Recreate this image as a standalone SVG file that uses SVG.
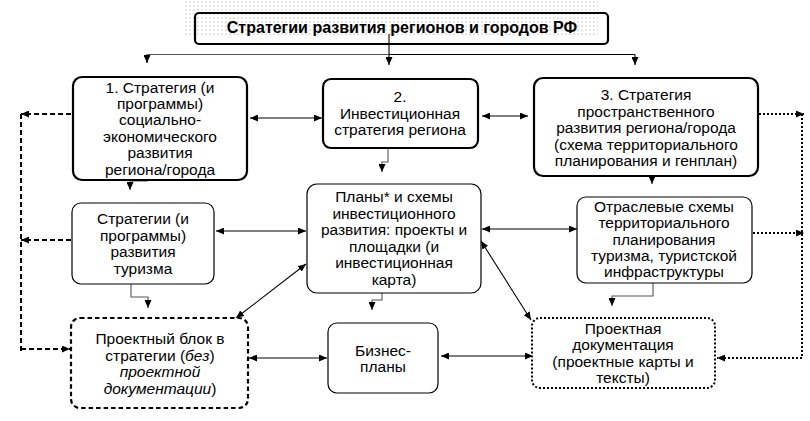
<svg xmlns="http://www.w3.org/2000/svg" width="810" height="421" viewBox="0 0 810 421">
<defs>
<pattern id="dots" patternUnits="userSpaceOnUse" width="4" height="4">
<circle cx="2" cy="2" r="0.6" fill="#8a8a8a"/>
</pattern>
<marker id="ah" viewBox="0 0 8 7" refX="8" refY="3.5" markerWidth="8" markerHeight="7" markerUnits="userSpaceOnUse" orient="auto-start-reverse">
<path d="M0,0 L8,3.5 L0,7 z" fill="#000"/>
</marker>
<style>
text{font-family:"Liberation Sans",Arial,sans-serif;font-size:15.5px;fill:#000;text-anchor:middle}
.title{font-weight:bold;font-size:16px}
.thick{fill:#fff;stroke:#000;stroke-width:2.2}
.thin{fill:#fff;stroke:#000;stroke-width:1.2}
.dash{fill:#fff;stroke:#000;stroke-width:2.2;stroke-dasharray:4.5 3}
.dot{fill:#fff;stroke:#000;stroke-width:2;stroke-dasharray:2 2}
.c{fill:none;stroke:#000;stroke-width:1.1}
.cg{fill:none;stroke:#555;stroke-width:1.1}
.both{marker-start:url(#ah);marker-end:url(#ah)}
.end{marker-end:url(#ah)}
.ld{fill:none;stroke:#000;stroke-width:2;stroke-dasharray:5 3}
.rd{fill:none;stroke:#000;stroke-width:2;stroke-dasharray:2 2}
</style>
</defs>
<rect x="0" y="0" width="810" height="421" fill="#fff"/>

<g id="title">
<rect x="185" y="0" width="413" height="36" fill="url(#dots)"/>
<rect x="195" y="13" width="413" height="31" rx="4" fill="none" stroke="#000" stroke-width="2.2"/>
<text class="title" x="402" y="33">Стратегии развития регионов и городов РФ</text>
</g>

<g id="connectors">
<path class="c end" d="M389,34 V65"/>
<path class="cg" d="M147,54.5 H389"/>
<path class="c" d="M389,54.5 H635"/>
<path class="c end" d="M147,54.5 V63"/>
<path class="c end" d="M635,54.5 V65"/>
<path class="c both" d="M250,118 H322"/>
<path class="c both" d="M482,116 H528"/>
<path class="cg end" d="M147,173 V181 H130 V190"/>
<path class="cg end" d="M388,138 V162 H382 V172"/>
<path class="cg end" d="M635,166 V174 H652 V184"/>
<path class="c both" d="M216,231 H306"/>
<path class="cg end" d="M131,272 V297 H148 V308"/>
<path class="c both" d="M236,318 L306,264"/>
<path class="c both" d="M249,358 H327"/>
<path class="cg end" d="M382,284 V300 H372 V310"/>
<path class="c both" d="M482,229 H577"/>
<path class="c both" d="M481,241 L531,320"/>
<path class="cg end" d="M653,275 V296 H612 V306"/>
<path class="c both" d="M441,356 H533"/>
<path class="ld end" d="M71,114 H21"/>
<path class="ld" d="M21,114 V352"/>
<path class="ld end" d="M71,240 H21"/>
<path class="ld end" d="M21,349 H70"/>
<path class="rd end" d="M759,114 H804"/>
<path class="rd end" d="M753,233 H804"/>
<path class="rd end" d="M802,114 V358 H717"/>
</g>

<g id="n1">
<rect class="thick" x="73" y="77" width="174" height="103" rx="9"/>
<text x="160" y="92.5">1. Стратегия (и</text>
<text x="160" y="108.9">программы)</text>
<text x="160" y="125.3">социально-</text>
<text x="160" y="141.7">экономического</text>
<text x="160" y="158.1">развития</text>
<text x="160" y="174.5">региона/города</text>
</g>

<g id="n2">
<rect class="thick" x="323" y="79" width="155" height="69" rx="8"/>
<text x="400" y="102">2.</text>
<text x="400" y="118.5">Инвестиционная</text>
<text x="400" y="135">стратегия региона</text>
</g>

<g id="n3">
<rect class="thick" x="534" y="78" width="224" height="98" rx="9"/>
<text x="646" y="100">3. Стратегия</text>
<text x="646" y="116.5">пространственного</text>
<text x="646" y="133">развития региона/города</text>
<text x="646" y="149.5">(схема территориального</text>
<text x="646" y="166">планирования и генплан)</text>
</g>

<g id="n4">
<rect class="thin" x="72" y="203" width="142" height="81" rx="9"/>
<text x="143" y="224">Стратегии (и</text>
<text x="143" y="240.5">программы)</text>
<text x="143" y="257">развития</text>
<text x="143" y="273.5">туризма</text>
</g>

<g id="n5">
<rect class="thin" x="307" y="184" width="174" height="109" rx="10"/>
<text x="394" y="202">Планы* и схемы</text>
<text x="394" y="218.5">инвестиционного</text>
<text x="394" y="235">развития: проекты и</text>
<text x="394" y="251.5">площадки (и</text>
<text x="394" y="268">инвестиционная</text>
<text x="394" y="284.5">карта)</text>
</g>

<g id="n6">
<rect class="thin" x="577" y="197" width="175" height="86" rx="9"/>
<text x="664" y="212">Отраслевые схемы</text>
<text x="664" y="228.3">территориального</text>
<text x="664" y="244.6">планирования</text>
<text x="664" y="261">туризма, туристской</text>
<text x="664" y="277.3">инфраструктуры</text>
</g>

<g id="n7">
<rect class="dash" x="71" y="318" width="177" height="90" rx="9"/>
<text x="160" y="344">Проектный блок в</text>
<text x="160" y="360.5">стратегии (<tspan font-style="italic">без</tspan>)</text>
<text x="160" y="377" font-style="italic">проектной</text>
<text x="160" y="393.5"><tspan font-style="italic">документации</tspan>)</text>
</g>

<g id="n8">
<rect class="thin" x="328" y="323" width="110" height="70" rx="9"/>
<text x="383" y="355.5">Бизнес-</text>
<text x="383" y="372">планы</text>
</g>

<g id="n9">
<rect class="dot" x="532" y="318" width="183" height="70" rx="8"/>
<text x="623" y="333.5">Проектная</text>
<text x="623" y="350">документация</text>
<text x="623" y="366.5">(проектные карты и</text>
<text x="623" y="383">тексты)</text>
</g>
</svg>
